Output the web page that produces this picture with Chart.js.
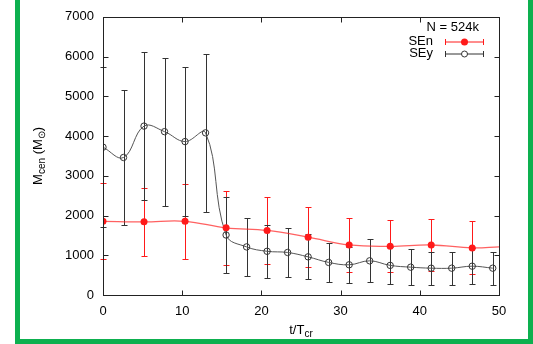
<!DOCTYPE html>
<html>
<head>
<meta charset="utf-8">
<script src="https://cdn.jsdelivr.net/npm/chart.js@4.4.0/dist/chart.umd.min.js"></script>
<style>
  html, body { margin: 0; padding: 0; background: #fff; }
  #wrap { position: relative; width: 533px; height: 344px; overflow: hidden; }
  #frame {
    position: absolute; left: 15px; top: -10px; width: 518px; height: 354px;
    border: 5px solid #0db04f; border-top: none; box-sizing: border-box; pointer-events: none;
  }
  canvas { position: absolute; left: 0; top: 0; }
</style>
</head>
<body>
<div id="wrap">
  <canvas id="chart" width="533" height="344"></canvas>
  <div id="frame"></div>
</div>
<script>
// t/Tcr para cada serie
const seyTimes = [0, 2.59, 5.18, 7.77, 10.36, 12.95, 15.54, 18.13, 20.72, 23.31,
                  25.9, 28.49, 31.08, 33.67, 36.26, 38.85, 41.44, 44.03, 46.62, 49.21];
const seyMass = [3720, 3460, 4250, 4110, 3860, 4080, 1510, 1210, 1100, 1070,
                 960, 820, 760, 860, 745, 700, 675, 675, 725, 675];
const seyErr = [2020, 1690, 1860, 1865, 1875, 1980, 945, 720, 667, 615,
                567, 488, 460, 540, 460, 458, 412, 412, 458, 412];

// el ultimo punto (50) solo continua la curva, sin marcador ni barra
const senTimes = [0, 5.18, 10.36, 15.54, 20.72, 25.9, 31.08, 36.26, 41.44, 46.62, 50];
const senMass = [1855, 1840, 1855, 1690, 1625, 1455, 1260, 1225, 1258, 1185, 1210];
const senErr = [955, 858, 950, 930, 838, 758, 680, 658, 642, 667, null];

const xTicks = [0, 10, 20, 30, 40, 50];
const yTicks = [0, 1000, 2000, 3000, 4000, 5000, 6000, 7000];

const FONT = '"Liberation Sans", Arial, sans-serif';
const RED = '#ff1a1a';
const DARK = '#333';

function barras(ctx, chart, xs, ys, errs, color) {
  const xS = chart.scales.x, yS = chart.scales.y;
  ctx.save();
  ctx.strokeStyle = color;
  ctx.lineWidth = 1;
  xs.forEach((t, i) => {
    if (errs[i] == null) return;
    const px = Math.round(xS.getPixelForValue(t)) + 0.5;
    const top = Math.round(yS.getPixelForValue(ys[i] + errs[i])) + 0.5;
    const bot = Math.round(yS.getPixelForValue(ys[i] - errs[i])) + 0.5;
    ctx.beginPath();
    ctx.moveTo(px, top); ctx.lineTo(px, bot);
    ctx.moveTo(px - 3, top); ctx.lineTo(px + 3, top);
    ctx.moveTo(px - 3, bot); ctx.lineTo(px + 3, bot);
    ctx.stroke();
  });
  ctx.restore();
}

// dibuja texto con trozos en subindice, devuelve el ancho
function textoSub(ctx, parts, x, y, draw) {
  let w = 0;
  parts.forEach(p => {
    ctx.font = (p.sub ? '10px ' : '13px ') + FONT;
    if (draw) ctx.fillText(p.t, x + w, y + (p.sub ? 4 : 0));
    w += ctx.measureText(p.t).width;
  });
  return w;
}

const estiloGnuplot = {
  id: 'estiloGnuplot',
  beforeDatasetsDraw(chart) {
    const ctx = chart.ctx;
    barras(ctx, chart, senTimes, senMass, senErr, RED);
    barras(ctx, chart, seyTimes, seyMass, seyErr, DARK);
  },
  afterDraw(chart) {
    const ctx = chart.ctx;
    const a = chart.chartArea;
    const xS = chart.scales.x, yS = chart.scales.y;
    ctx.save();
    ctx.strokeStyle = '#222';
    ctx.lineWidth = 1;
    const L = Math.round(a.left) + 0.5, R = Math.round(a.right) + 0.5;
    const T = Math.round(a.top) + 0.5, B = Math.round(a.bottom) + 0.5;
    ctx.strokeRect(L, T, R - L, B - T);
    // ticks hacia adentro en los cuatro lados
    ctx.beginPath();
    xTicks.slice(1, -1).forEach(v => {
      const px = Math.round(xS.getPixelForValue(v)) + 0.5;
      ctx.moveTo(px, B); ctx.lineTo(px, B - 5);
      ctx.moveTo(px, T); ctx.lineTo(px, T + 5);
    });
    yTicks.slice(1, -1).forEach(v => {
      const py = Math.round(yS.getPixelForValue(v)) + 0.5;
      ctx.moveTo(L, py); ctx.lineTo(L + 5, py);
      ctx.moveTo(R, py); ctx.lineTo(R - 5, py);
    });
    ctx.stroke();

    // titulos de ejes
    ctx.fillStyle = '#000';
    ctx.textBaseline = 'middle';
    const xt = [{ t: 't/T' }, { t: 'cr', sub: true }];
    const wx = textoSub(ctx, xt, 0, 0, false);
    textoSub(ctx, xt, (a.left + a.right) / 2 - wx / 2, 330, true);

    ctx.save();
    ctx.translate(38, (a.top + a.bottom) / 2);
    ctx.rotate(-Math.PI / 2);
    const yt = [{ t: 'M' }, { t: 'cen', sub: true }, { t: ' (M' }, { t: '\u2299', sub: true }, { t: ')' }];
    const wy = textoSub(ctx, yt, 0, 0, false);
    textoSub(ctx, yt, -wy / 2, 0, true);
    ctx.restore();

    // leyenda
    ctx.font = '13px ' + FONT;
    ctx.textAlign = 'right';
    ctx.fillText('N = 524k', 479, 27);
    const filas = [
      { label: 'SEn', y: 41.5, color: RED, lleno: true },
      { label: 'SEy', y: 53.5, color: DARK, lleno: false }
    ];
    filas.forEach(f => {
      ctx.fillStyle = '#000';
      ctx.fillText(f.label, 433, f.y);
      ctx.strokeStyle = f.color;
      ctx.lineWidth = 1;
      ctx.beginPath();
      ctx.moveTo(445, f.y + 0.5); ctx.lineTo(484, f.y + 0.5);
      ctx.moveTo(445.5, f.y - 2.5); ctx.lineTo(445.5, f.y + 3.5);
      ctx.moveTo(483.5, f.y - 2.5); ctx.lineTo(483.5, f.y + 3.5);
      ctx.stroke();
      ctx.beginPath();
      ctx.arc(464.5, f.y + 0.5, f.lleno ? 3.5 : 3, 0, Math.PI * 2);
      if (f.lleno) { ctx.fillStyle = f.color; ctx.fill(); }
      else { ctx.fillStyle = '#fff'; ctx.fill(); ctx.stroke(); }
    });
    ctx.restore();
  }
};

const ctx = document.getElementById('chart').getContext('2d');
new Chart(ctx, {
  type: 'line',
  data: {
    datasets: [
      {
        label: 'SEn',
        data: senTimes.map((t, i) => ({ x: t, y: senMass[i] })),
        borderColor: 'rgba(255,30,30,0.7)',
        borderWidth: 1.3,
        pointRadius: c => senErr[c.dataIndex] == null ? 0 : 3.5,
        pointBackgroundColor: RED,
        pointBorderColor: RED,
        pointBorderWidth: 0,
        tension: 0.4
      },
      {
        label: 'SEy',
        data: seyTimes.map((t, i) => ({ x: t, y: seyMass[i] })),
        borderColor: '#555',
        borderWidth: 1,
        pointRadius: 3.2,
        pointStyle: 'circle',
        pointBackgroundColor: 'rgba(255,255,255,0)',
        pointBorderColor: DARK,
        pointBorderWidth: 1,
        tension: 0.4
      }
    ]
  },
  options: {
    responsive: false,
    animation: false,
    layout: { padding: { top: 15, right: 34, left: 0, bottom: 0 } },
    plugins: { legend: { display: false }, tooltip: { enabled: false } },
    scales: {
      x: {
        type: 'linear', min: 0, max: 50,
        afterBuildTicks: s => { s.ticks = xTicks.map(v => ({ value: v })); },
        ticks: { color: '#000', padding: 9, font: { family: FONT, size: 13 }, callback: v => String(v) },
        grid: { display: false, tickLength: 0 },
        border: { display: false },
        afterFit: s => { s.height = 49; }
      },
      y: {
        min: 0, max: 7000,
        afterBuildTicks: s => { s.ticks = yTicks.map(v => ({ value: v })); },
        ticks: { color: '#000', padding: 9, font: { family: FONT, size: 13 }, callback: v => String(v) },
        grid: { display: false, tickLength: 0 },
        border: { display: false },
        afterFit: s => { s.width = 103; }
      }
    }
  },
  plugins: [estiloGnuplot]
});
</script>
</body>
</html>
